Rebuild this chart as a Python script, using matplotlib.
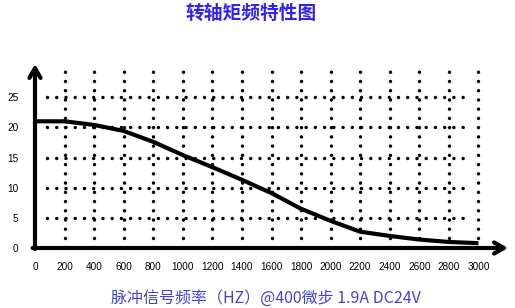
import matplotlib
matplotlib.use("Agg")
import matplotlib.pyplot as plt

plt.rcParams['font.family'] = ['Liberation Sans', 'DejaVu Sans']

# Data
freq = [0, 200, 400, 600, 800, 1000, 1200, 1400, 1600, 1800, 2000, 2200, 2400, 2600, 2800, 3000]
torque = [21.0, 21.0, 20.4, 19.4, 17.6, 15.4, 13.4, 11.3, 9.1, 6.5, 4.5, 2.7, 2.0, 1.4, 1.0, 0.8]
xticks = [0, 200, 400, 600, 800, 1000, 1200, 1400, 1600, 1800, 2000, 2200, 2400, 2600, 2800, 3000]
yticks = [0, 5, 10, 15, 20, 25]
vgrid = [200, 400, 600, 800, 1000, 1200, 1400, 1600, 1800, 2000, 2200, 2400, 2600, 2800, 3000]
hgrid = [5, 10, 15, 20, 25]

title = "转轴矩频特性图"
xlabel = "脉冲信号频率（HZ）@400微步 1.9A DC24V"

fig = plt.figure(figsize=(5.15, 3.08), dpi=100)
W, H = 515, 308
x0, x1 = 35, 508
y0, y1 = 248, 64
ax = fig.add_axes([x0 / W, (H - y0) / H, (x1 - x0) / W, (y0 - y1) / H])
ax.set_xlim(0, 3200)
ax.set_ylim(0, 30.5)
for s in ax.spines.values():
    s.set_visible(False)

dot = dict(color='black', linewidth=2.5, linestyle=(0, (0.01, 2.65)), dash_capstyle='round')
for xv in vgrid:
    ax.plot([xv, xv], [1.6, 30.3], **dot, clip_on=False)
for yv in hgrid:
    ax.plot([80, 2930], [yv, yv], **dot, clip_on=False)

ax.plot(freq, torque, color='black', linewidth=3.0, solid_capstyle='butt', clip_on=False, zorder=5)

ap = dict(arrowstyle='->,head_length=0.7,head_width=0.4', lw=3, color='black',
          shrinkA=0, shrinkB=0)
ax.annotate('', xy=(0, 1), xytext=(0, -0.005), xycoords='axes fraction', arrowprops=ap)
ax.annotate('', xy=(1, 0), xytext=(-0.005, 0), xycoords='axes fraction', arrowprops=ap)

ax.set_xticks(xticks)
ax.set_yticks(yticks)
ax.tick_params(axis='both', length=0, labelsize=7.2)
ax.tick_params(axis='x', pad=10)
ax.tick_params(axis='y', pad=12)

fig.text(251 / W, 1 - 13 / H, title, ha='center', va='center', fontsize=13.5,
         fontweight='bold', color='#3322ee', family=['Noto Sans CJK SC', 'DejaVu Sans'])
fig.text(266 / W, 1 - 298 / H, xlabel, ha='center', va='center', fontsize=11.5,
         color='#4444cc', family=['Noto Sans CJK SC', 'DejaVu Sans'])

fig.savefig('out.png', dpi=100)
